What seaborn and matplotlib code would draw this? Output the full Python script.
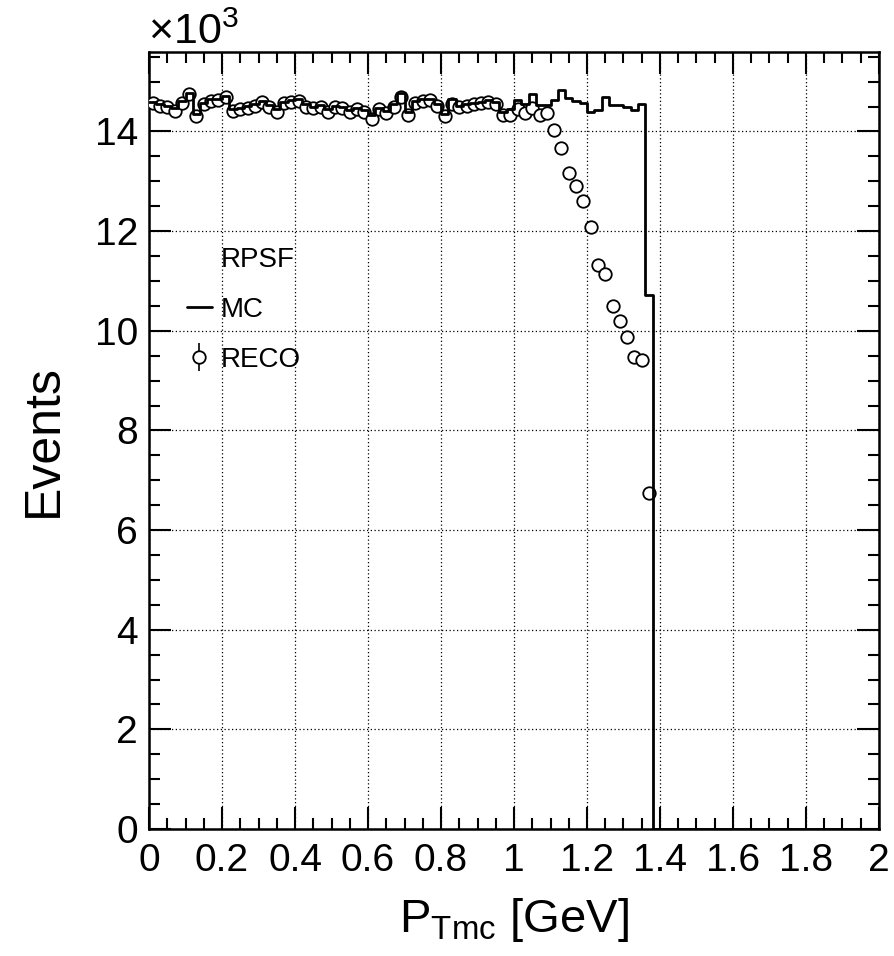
import numpy as np
import pandas as pd
import matplotlib
matplotlib.use('Agg')
import matplotlib.pyplot as plt
from matplotlib.lines import Line2D
from matplotlib.ticker import MultipleLocator, FuncFormatter
import seaborn as sns

# --- 데이터 (단위: 10^3 events, bin 폭 0.02 GeV) ---
bin_lo = 0.0
bin_hi = 2.0
n_bins = 100

# MC (generator level) 히스토그램
mc_k = [14.60, 14.55, 14.52, 14.48, 14.62, 14.78, 14.35, 14.58, 14.66, 14.65,
        14.72, 14.45, 14.48, 14.52, 14.55, 14.62, 14.54, 14.45, 14.60, 14.63,
        14.65, 14.55, 14.50, 14.53, 14.45, 14.52, 14.50, 14.44, 14.48, 14.44,
        14.32, 14.48, 14.42, 14.55, 14.78, 14.40, 14.62, 14.66, 14.65, 14.56,
        14.36, 14.65, 14.52, 14.56, 14.58, 14.60, 14.63, 14.60, 14.40, 14.45,
        14.64, 14.55, 14.75, 14.54, 14.54, 14.64, 14.84, 14.67, 14.62, 14.57,
        14.39, 14.44, 14.69, 14.54, 14.53, 14.49, 14.44, 14.55, 10.72]

# RECO 점
reco_k = [14.57, 14.52, 14.50, 14.42, 14.58, 14.75, 14.30, 14.55, 14.62, 14.63,
          14.70, 14.42, 14.45, 14.48, 14.52, 14.60, 14.50, 14.40, 14.58, 14.60,
          14.62, 14.50, 14.48, 14.50, 14.40, 14.50, 14.48, 14.40, 14.45, 14.40,
          14.25, 14.45, 14.38, 14.50, 14.70, 14.33, 14.58, 14.62, 14.63, 14.52,
          14.30, 14.55, 14.50, 14.52, 14.55, 14.58, 14.60, 14.55, 14.32, 14.33,
          14.45, 14.38, 14.48, 14.32, 14.37, 14.02, 13.67, 13.16, 12.90, 12.60,
          12.09, 11.31, 11.13, 10.49, 10.20, 9.88, 9.47, 9.42, 6.74]
reco_err = 0.12

x_ticks = [0, 0.2, 0.4, 0.6, 0.8, 1, 1.2, 1.4, 1.6, 1.8, 2]
y_ticks = [0, 2, 4, 6, 8, 10, 12, 14]

# --- 스타일 ---
sns.set_style('ticks')
plt.rcParams['font.family'] = ['Liberation Sans', 'DejaVu Sans']
plt.rcParams['mathtext.fontset'] = 'custom'
plt.rcParams['mathtext.rm'] = 'Liberation Sans'
plt.rcParams['mathtext.it'] = 'Liberation Sans:italic'
plt.rcParams['mathtext.bf'] = 'Liberation Sans:bold'
for key in ['text.color', 'axes.labelcolor', 'xtick.color', 'ytick.color',
            'axes.edgecolor']:
    plt.rcParams[key] = 'black'

edges = np.linspace(bin_lo, bin_hi, n_bins + 1)
centers = edges[:-1] + (edges[1] - edges[0]) / 2
mc_df = pd.DataFrame({'pt': centers,
                      'events': mc_k + [0.0] * (n_bins - len(mc_k))})

fig = plt.figure(figsize=(8.94, 9.56), dpi=100)
ax = fig.add_axes([0.1667, 0.1328, 0.8165, 0.8131])

# MC 히스토그램 (step) - 점 위에 그려서 원 안으로 선이 보이게
sns.histplot(data=mc_df, x='pt', weights='events', bins=n_bins,
             binrange=(bin_lo, bin_hi), element='step', fill=False,
             color='black', linewidth=2, ax=ax, zorder=4)

# RECO 점 + 오차막대
reco = ax.errorbar(centers[:len(reco_k)], reco_k, yerr=reco_err, fmt='o',
                   color='black', mfc='white', mec='black', ms=9, mew=1.3,
                   elinewidth=1.2, capsize=0, zorder=3)

ax.set_xlim(bin_lo, bin_hi)
ax.set_ylim(0, 15.6)

ax.set_xticks(x_ticks)
ax.set_yticks(y_ticks)
ax.xaxis.set_minor_locator(MultipleLocator(0.05))
ax.yaxis.set_minor_locator(MultipleLocator(0.5))
ax.xaxis.set_major_formatter(FuncFormatter(lambda v, p: f'{v:g}'))
ax.yaxis.set_major_formatter(FuncFormatter(lambda v, p: f'{v:g}'))

ax.tick_params(which='both', direction='in', top=True, right=True,
               width=1.5, labelsize=28, colors='black')
ax.tick_params(axis='x', which='major', length=16, pad=10)
ax.tick_params(axis='y', which='major', length=16, pad=8)
ax.tick_params(which='minor', length=8)
for sp in ax.spines.values():
    sp.set_linewidth(1.8)
    sp.set_color('black')

ax.grid(True, which='major', linestyle=(0, (1, 2)), color='black', linewidth=0.9)
ax.set_axisbelow(True)

ax.set_xlabel(r'$\mathregular{P_{Tmc}}$ [GeV]', fontsize=34)
ax.set_ylabel('Events', fontsize=36)
ax.xaxis.set_label_coords(0.5, -0.086)
ax.yaxis.set_label_coords(-0.113, 0.5)

fig.text(0.1655, 1 - 44 / 956, '×10$^{3}$', fontsize=31, ha='left', va='baseline')

# 범례
handles = [Line2D([], [], linestyle='none'),
           Line2D([], [], color='black', linewidth=2),
           reco]
labels = ['RPSF', 'MC', 'RECO']
ax.legend(handles, labels, loc='upper left', bbox_to_anchor=(0.052, 0.749),
          frameon=False, fontsize=20, handlelength=0.9, handletextpad=0.3,
          labelspacing=0.86, borderpad=0, borderaxespad=0)

fig.savefig('out.png', dpi=100)
